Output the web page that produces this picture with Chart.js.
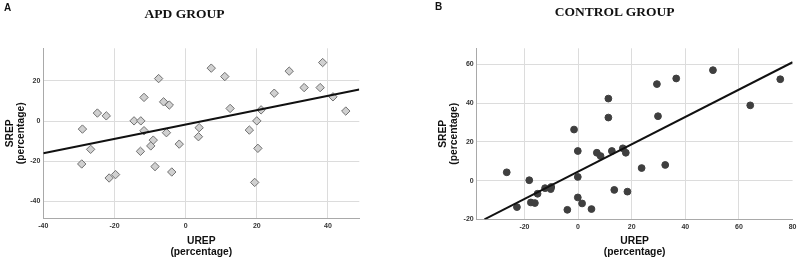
<!DOCTYPE html>
<html>
<head>
<meta charset="utf-8">
<script src="https://cdn.jsdelivr.net/npm/chart.js@4.4.1/dist/chart.umd.min.js"></script>
<style>
  body { margin: 0; background: #fff; }
  #wrap { position: relative; width: 800px; height: 261px; overflow: hidden; }
  canvas { position: absolute; top: 0; }
  .lbl { position: absolute; font-family: "Liberation Sans", Arial, sans-serif; font-weight: bold; font-size: 10px; line-height: 10px; color: #111; }
  .ttl { position: absolute; width: 200px; text-align: center; font-family: "Liberation Serif", "Times New Roman", serif; font-weight: bold; font-size: 13.5px; line-height: 13.5px; color: #111; }
</style>
</head>
<body>
<div id="wrap">
  <canvas id="chartA" width="400" height="261" style="left:0"></canvas>
  <canvas id="chartB" width="400" height="261" style="left:400px"></canvas>
  <div class="lbl" style="left:4px;top:2.5px">A</div>
  <div class="lbl" style="left:435px;top:1.8px">B</div>
  <div class="ttl" style="left:84.5px;top:7px">APD GROUP</div>
  <div class="ttl" style="left:514.7px;top:5.4px">CONTROL GROUP</div>
</div>
<script>
// APD group (panel A)
const apdX = [7.2, 11.0, -7.6, -11.7, -6.2, -4.6, -24.8, -22.3, -14.5, -12.6,
              -29.0, -11.7, -5.4, 3.8, 3.6, -9.1, -9.8, -26.7, -12.7, -1.8,
              -29.2, -8.6, -3.9, -21.5, -19.7, 12.5, 38.5, 29.1, 24.9, 33.3,
              37.8, 41.4, 45.0, 21.2, 20.0, 17.9, 20.3, 19.4];
const apdY = [26.4, 22.2, 21.2, 11.8, 9.6, 8.0, 4.0, 2.6, 0.1, 0.1,
              -4.0, -4.8, -5.8, -3.3, -7.8, -9.5, -12.4, -14.1, -15.1, -11.5,
              -21.4, -22.7, -25.4, -28.4, -26.7, 6.3, 29.2, 24.9, 13.9, 16.7,
              16.7, 12.1, 5.0, 5.6, 0.1, -4.5, -13.6, -30.6];
const apdFitX = [-40, 48.8];
const apdFitY = [-16.0, 15.8];
const apdTicksX = [-40, -20, 0, 20, 40];
const apdTicksY = [-40, -20, 0, 20];

// Control group (panel B)
const ctrlX = [-26.6, -22.8, -18.2, -17.6, -16.1, -15.1, -12.3, -10.2, -10.0, -4.0,
               -1.5, -0.1, -0.1, -0.1, 1.5, 5.0, 7.0, 8.4, 11.3, 11.3,
               12.6, 13.5, 16.7, 17.8, 18.4, 29.4, 36.6, 50.3, 75.4, 64.2,
               29.8, 23.7, 32.5];
const ctrlY = [4.3, -13.7, 0.2, -11.3, -11.6, -6.8, -3.9, -4.4, -3.3, -15.1,
               26.4, 15.3, 1.9, -8.7, -11.8, -14.7, 14.4, 12.7, 42.4, 32.6,
               15.3, -4.8, 16.7, 14.4, -5.7, 49.9, 52.8, 57.1, 52.4, 38.9,
               33.3, 6.5, 8.1];
const ctrlFitX = [-34.9, 80];
const ctrlFitY = [-20, 61.2];
const ctrlTicksX = [-20, 0, 20, 40, 60, 80];
const ctrlTicksY = [-20, 0, 20, 40, 60];

const gridColor = '#dcdcdc';
const axisColor = '#a9a9a9';
const tickFont = { family: 'Liberation Sans', size: 7, weight: 'bold' };
const titleFont = { family: 'Liberation Sans', size: 10.3, weight: 'bold', lineHeight: 1.1 };

function pts(xs, ys) {
  return xs.map((x, i) => ({ x: x, y: ys[i] }));
}

function makeChart(id, o) {
  return new Chart(document.getElementById(id), {
    type: 'scatter',
    data: {
      datasets: [
        {
          data: pts(o.xs, o.ys),
          pointStyle: o.pointStyle,
          pointRadius: o.radius,
          pointHoverRadius: o.radius,
          backgroundColor: o.fill,
          borderColor: o.border,
          pointBorderWidth: 1,
          order: 2
        },
        {
          type: 'line',
          data: pts(o.fitX, o.fitY),
          borderColor: '#111',
          borderWidth: 2,
          pointRadius: 0,
          fill: false,
          order: 1
        }
      ]
    },
    options: {
      responsive: false,
      animation: false,
      events: [],
      layout: { padding: { left: 0, top: o.top, right: o.right, bottom: 0 } },
      plugins: { legend: { display: false }, tooltip: { enabled: false } },
      scales: {
        x: {
          type: 'linear',
          min: o.xMin, max: o.xMax,
          afterBuildTicks: s => { s.ticks = o.ticksX.map(v => ({ value: v })); },
          afterFit: s => { s.height = o.xHeight; },
          grid: {
            color: c => (c.tick && c.tick.value === o.xMax) ? 'transparent' : gridColor,
            drawTicks: false
          },
          border: { color: axisColor, width: 1 },
          ticks: { font: tickFont, color: '#333', padding: 3.5, maxRotation: 0 },
          title: { display: true, text: ['UREP', '(percentage)'], font: titleFont, color: '#111', padding: { top: 0, bottom: 3.2 } }
        },
        y: {
          type: 'linear',
          min: o.yMin, max: o.yMax,
          afterBuildTicks: s => { s.ticks = o.ticksY.map(v => ({ value: v })); },
          afterFit: s => { s.width = o.yWidth; },
          grid: { color: gridColor, drawTicks: false },
          border: { color: axisColor, width: 1 },
          ticks: { font: tickFont, color: '#333', padding: 3 },
          title: { display: true, text: ['SREP', '(percentage)'], font: titleFont, color: '#111', padding: { top: o.yTitlePad, bottom: 0 } }
        }
      }
    }
  });
}

makeChart('chartA', {
  xs: apdX, ys: apdY, fitX: apdFitX, fitY: apdFitY,
  ticksX: apdTicksX, ticksY: apdTicksY,
  xMin: -40, xMax: 48.8, yMin: -48.5, yMax: 36.3,
  pointStyle: 'rectRot', radius: 4.2, fill: '#d0d0d0', border: '#707070',
  top: 48.3, right: 40.7, xHeight: 42.7, yWidth: 43.3, yTitlePad: 4.3
});

makeChart('chartB', {
  xs: ctrlX, ys: ctrlY, fitX: ctrlFitX, fitY: ctrlFitY,
  ticksX: ctrlTicksX, ticksY: ctrlTicksY,
  xMin: -37.8, xMax: 80, yMin: -20, yMax: 68.4,
  pointStyle: 'circle', radius: 3.4, fill: '#3f3f3f', border: '#3f3f3f',
  top: 48.3, right: 7, xHeight: 41.7, yWidth: 76.7, yTitlePad: 37.3
});
</script>
</body>
</html>
